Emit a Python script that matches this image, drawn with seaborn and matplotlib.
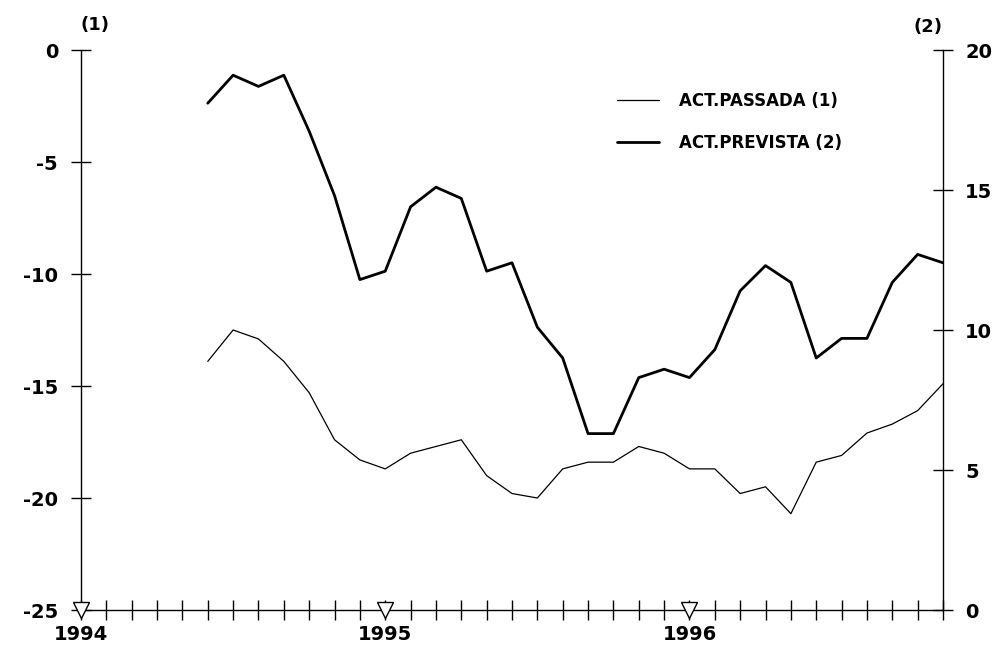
import pandas as pd
import matplotlib
matplotlib.use('Agg')
import matplotlib.pyplot as plt
import seaborn as sns

# Monthly index: 0 = Jan 1994
years = ['1994', '1995', '1996']
months = list(range(5, 35))  # Jun 1994 .. Nov 1996

act_passada = [-13.9, -12.5, -12.9, -13.9, -15.3, -17.4, -18.3, -18.7, -18.0, -17.7,
               -17.4, -19.0, -19.8, -20.0, -18.7, -18.4, -18.4, -17.7, -18.0, -18.7,
               -18.7, -19.8, -19.5, -20.7, -18.4, -18.1, -17.1, -16.7, -16.1, -14.9]
act_prevista = [18.1, 19.1, 18.7, 19.1, 17.1, 14.8, 11.8, 12.1, 14.4, 15.1,
                14.7, 12.1, 12.4, 10.1, 9.0, 6.3, 6.3, 8.3, 8.6, 8.3,
                9.3, 11.4, 12.3, 11.7, 9.0, 9.7, 9.7, 11.7, 12.7, 12.4]

df = pd.DataFrame({'mes': months, 'passada': act_passada, 'prevista': act_prevista})

sns.set_style('white')
plt.rcParams['font.family'] = ['DejaVu Sans']
plt.rcParams['font.weight'] = 'bold'
plt.rcParams['axes.unicode_minus'] = False
plt.rcParams['text.color'] = 'black'

fig = plt.figure(figsize=(9.99, 6.56), dpi=100)
ax = fig.add_axes([81 / 999, 46 / 656, (943 - 81) / 999, 560 / 656])
ax2 = ax.twinx()

sns.lineplot(data=df, x='mes', y='passada', ax=ax, color='black', linewidth=0.9,
             label='ACT.PASSADA (1)', legend=False)
sns.lineplot(data=df, x='mes', y='prevista', ax=ax2, color='black', linewidth=2.0,
             label='ACT.PREVISTA (2)', legend=False)

ax.set_xlim(0, 34)
ax.set_ylim(-25, 0)
ax2.set_ylim(0, 20)
ax.set_yticks([-25, -20, -15, -10, -5, 0])
ax2.set_yticks([0, 5, 10, 15, 20])
year_pos = [12 * i for i in range(len(years))]
ax.set_xticks(range(0, 35))
ax.set_xticklabels([years[i // 12] if i % 12 == 0 else '' for i in range(0, 35)])

for a in (ax, ax2):
    a.set_xlabel('')
    a.set_ylabel('')
    a.spines['top'].set_visible(False)
    for s in a.spines.values():
        s.set_color('black')
        s.set_linewidth(1.0)
ax.spines['right'].set_visible(False)
ax2.spines['left'].set_visible(False)
ax2.spines['bottom'].set_visible(False)

ax.tick_params(axis='x', bottom=True, direction='inout', length=14, width=1.0, pad=4,
               labelsize=14, colors='black')
ax.tick_params(axis='y', left=True, direction='inout', length=15, width=1.0, pad=9,
               labelsize=14, colors='black')
ax2.tick_params(axis='y', right=True, direction='inout', length=15, width=1.0, pad=8.5,
                labelsize=14, colors='black')
for lab in ax.get_xticklabels() + ax.get_yticklabels() + ax2.get_yticklabels():
    lab.set_fontweight('bold')

# open triangles marking the start of each year
ax.plot(year_pos, [-25] * len(year_pos), linestyle='none', marker='v', markersize=11,
        markerfacecolor='white', markeredgecolor='black', markeredgewidth=1.0,
        clip_on=False, zorder=5)

fig.text(95 / 999, 1 - 25 / 656, '(1)', ha='center', va='center', fontsize=13,
         fontweight='bold', color='black')
fig.text(928 / 999, 1 - 27 / 656, '(2)', ha='center', va='center', fontsize=13,
         fontweight='bold', color='black')

handles = ax.get_lines()[:1] + ax2.get_lines()[:1]
labels = ['ACT.PASSADA (1)', 'ACT.PREVISTA (2)']
ax2.legend(handles, labels, loc='upper left', bbox_to_anchor=(617 / 999, 1 - 92 / 656),
           bbox_transform=fig.transFigure, frameon=False, borderpad=0, borderaxespad=0,
           handlelength=2.5, handletextpad=1.2, labelspacing=1.45, labelcolor='black',
           prop={'size': 12, 'weight': 'bold'})

fig.savefig('out.png', dpi=100)
